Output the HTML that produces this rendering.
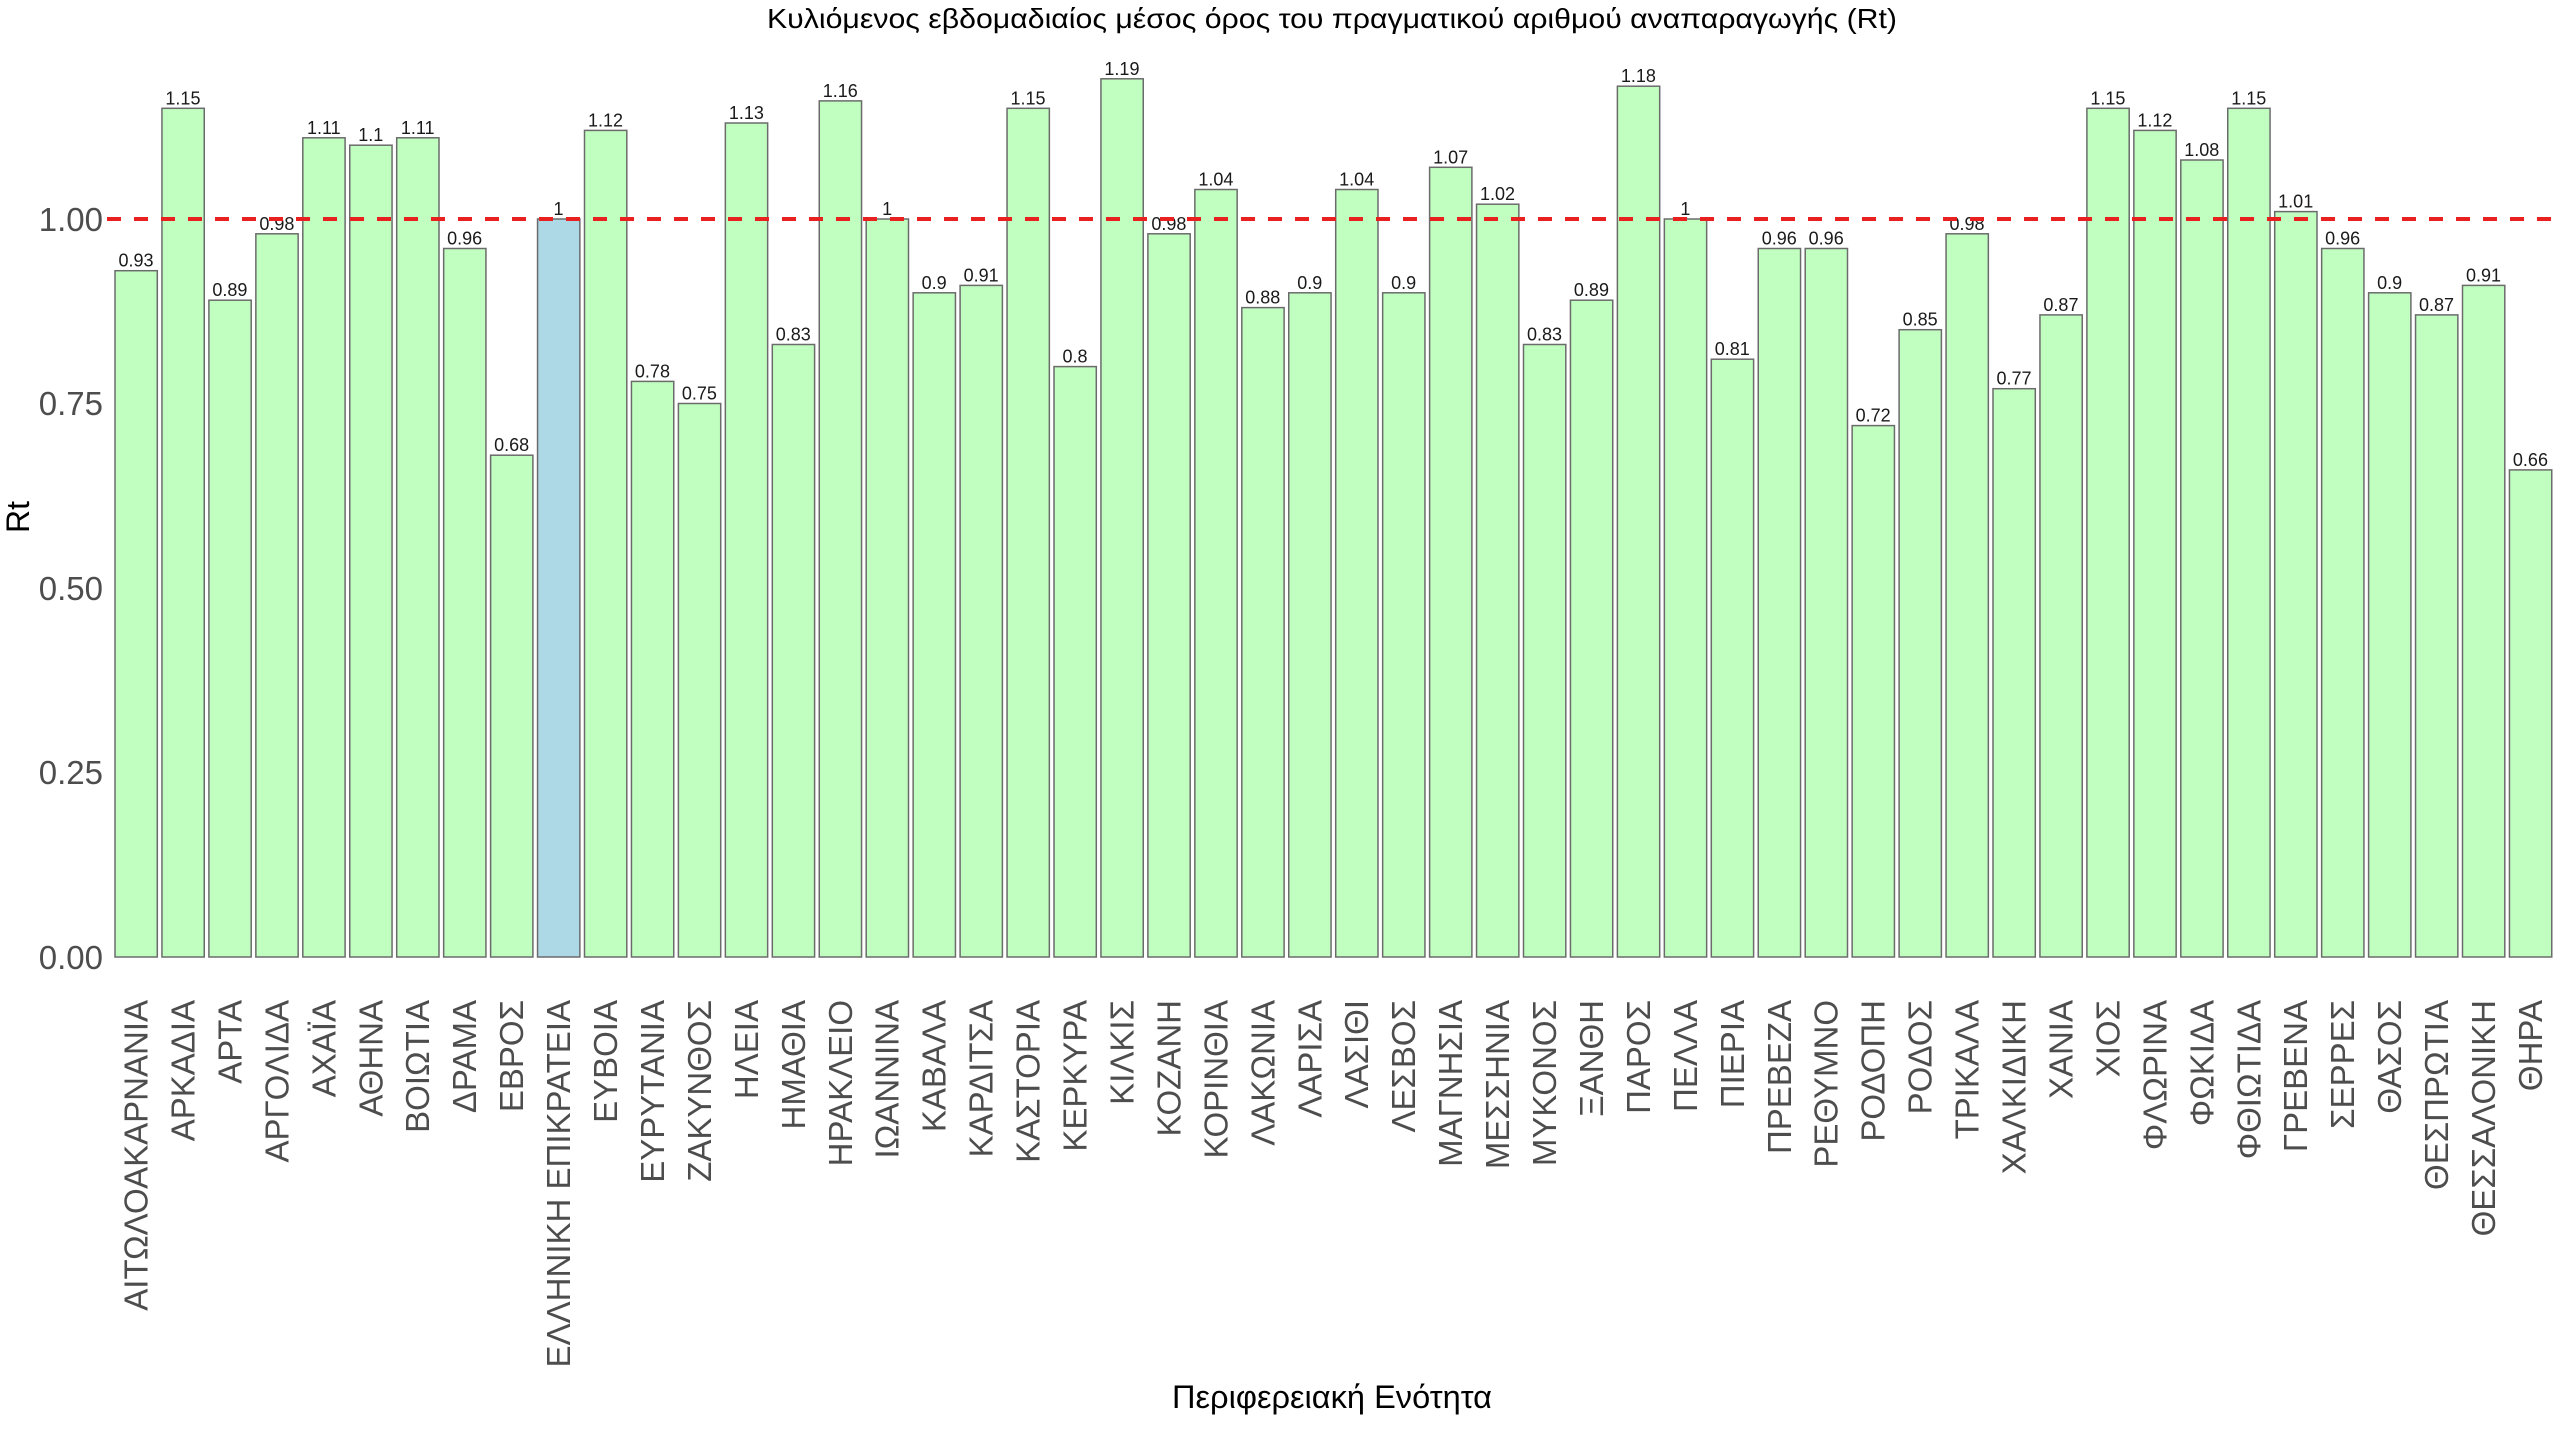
<!DOCTYPE html>
<html><head><meta charset="utf-8"><style>
html,body{margin:0;padding:0;background:#fff;}
svg{display:block;}
.b rect{fill:#c1ffc1;stroke:#6b6b6b;stroke-width:1.5;}
.v{font:18px "Liberation Sans",sans-serif;fill:#1a1a1a;text-anchor:middle;}
.x{font:33px "Liberation Sans",sans-serif;fill:#4d4d4d;text-anchor:end;}
.y{font:33px "Liberation Sans",sans-serif;fill:#4d4d4d;text-anchor:end;}
</style></head><body>
<svg width="2560" height="1440" viewBox="0 0 2560 1440" xmlns="http://www.w3.org/2000/svg">
<text x="1332" y="28" text-anchor="middle" textLength="1130" lengthAdjust="spacingAndGlyphs" style="font:28px 'Liberation Sans',sans-serif;fill:#000">Κυλιόμενος εβδομαδιαίος μέσος όρος του πραγματικού αριθμού αναπαραγωγής (Rt)</text>
<text x="1332" y="1408" text-anchor="middle" textLength="320" lengthAdjust="spacingAndGlyphs" style="font:32px 'Liberation Sans',sans-serif;fill:#000">Περιφερειακή Ενότητα</text>
<text transform="translate(29,517) rotate(-90)" text-anchor="middle" style="font:32px 'Liberation Sans',sans-serif;fill:#000">Rt</text>
<text class="y" x="103" y="969">0.00</text>
<text class="y" x="103" y="784">0.25</text>
<text class="y" x="103" y="600">0.50</text>
<text class="y" x="103" y="415">0.75</text>
<text class="y" x="103" y="231">1.00</text>
<g class="b">
<g transform="translate(115)"><rect x="0" y="270.7" width="42.3" height="686.3"/><text class="v" x="21" y="266.7">0.93</text><text class="x" transform="translate(32.5,1000) rotate(-90)">ΑΙΤΩΛΟΑΚΑΡΝΑΝΙΑ</text></g>
<g transform="translate(161.95)"><rect x="0" y="108.3" width="42.3" height="848.7"/><text class="v" x="21" y="104.3">1.15</text><text class="x" transform="translate(32.5,1000) rotate(-90)">ΑΡΚΑΔΙΑ</text></g>
<g transform="translate(208.9)"><rect x="0" y="300.2" width="42.3" height="656.8"/><text class="v" x="21" y="296.2">0.89</text><text class="x" transform="translate(32.5,1000) rotate(-90)">ΑΡΤΑ</text></g>
<g transform="translate(255.85)"><rect x="0" y="233.8" width="42.3" height="723.2"/><text class="v" x="21" y="229.8">0.98</text><text class="x" transform="translate(32.5,1000) rotate(-90)">ΑΡΓΟΛΙΔΑ</text></g>
<g transform="translate(302.8)"><rect x="0" y="137.8" width="42.3" height="819.2"/><text class="v" x="21" y="133.8">1.11</text><text class="x" transform="translate(32.5,1000) rotate(-90)">ΑΧΑΪΑ</text></g>
<g transform="translate(349.75)"><rect x="0" y="145.2" width="42.3" height="811.8"/><text class="v" x="21" y="141.2">1.1</text><text class="x" transform="translate(32.5,1000) rotate(-90)">ΑΘΗΝΑ</text></g>
<g transform="translate(396.7)"><rect x="0" y="137.8" width="42.3" height="819.2"/><text class="v" x="21" y="133.8">1.11</text><text class="x" transform="translate(32.5,1000) rotate(-90)">ΒΟΙΩΤΙΑ</text></g>
<g transform="translate(443.65)"><rect x="0" y="248.5" width="42.3" height="708.5"/><text class="v" x="21" y="244.5">0.96</text><text class="x" transform="translate(32.5,1000) rotate(-90)">ΔΡΑΜΑ</text></g>
<g transform="translate(490.6)"><rect x="0" y="455.2" width="42.3" height="501.8"/><text class="v" x="21" y="451.2">0.68</text><text class="x" transform="translate(32.5,1000) rotate(-90)">ΕΒΡΟΣ</text></g>
<g transform="translate(537.55)"><rect x="0" y="219" width="42.3" height="738" style="fill:#add8e6"/><text class="v" x="21" y="215">1</text><text class="x" transform="translate(32.5,1000) rotate(-90)">ΕΛΛΗΝΙΚΗ ΕΠΙΚΡΑΤΕΙΑ</text></g>
<g transform="translate(584.5)"><rect x="0" y="130.4" width="42.3" height="826.6"/><text class="v" x="21" y="126.4">1.12</text><text class="x" transform="translate(32.5,1000) rotate(-90)">ΕΥΒΟΙΑ</text></g>
<g transform="translate(631.45)"><rect x="0" y="381.4" width="42.3" height="575.6"/><text class="v" x="21" y="377.4">0.78</text><text class="x" transform="translate(32.5,1000) rotate(-90)">ΕΥΡΥΤΑΝΙΑ</text></g>
<g transform="translate(678.4)"><rect x="0" y="403.5" width="42.3" height="553.5"/><text class="v" x="21" y="399.5">0.75</text><text class="x" transform="translate(32.5,1000) rotate(-90)">ΖΑΚΥΝΘΟΣ</text></g>
<g transform="translate(725.35)"><rect x="0" y="123" width="42.3" height="834"/><text class="v" x="21" y="119">1.13</text><text class="x" transform="translate(32.5,1000) rotate(-90)">ΗΛΕΙΑ</text></g>
<g transform="translate(772.3)"><rect x="0" y="344.5" width="42.3" height="612.5"/><text class="v" x="21" y="340.5">0.83</text><text class="x" transform="translate(32.5,1000) rotate(-90)">ΗΜΑΘΙΑ</text></g>
<g transform="translate(819.25)"><rect x="0" y="100.9" width="42.3" height="856.1"/><text class="v" x="21" y="96.9">1.16</text><text class="x" transform="translate(32.5,1000) rotate(-90)">ΗΡΑΚΛΕΙΟ</text></g>
<g transform="translate(866.2)"><rect x="0" y="219" width="42.3" height="738"/><text class="v" x="21" y="215">1</text><text class="x" transform="translate(32.5,1000) rotate(-90)">ΙΩΑΝΝΙΝΑ</text></g>
<g transform="translate(913.15)"><rect x="0" y="292.8" width="42.3" height="664.2"/><text class="v" x="21" y="288.8">0.9</text><text class="x" transform="translate(32.5,1000) rotate(-90)">ΚΑΒΑΛΑ</text></g>
<g transform="translate(960.1)"><rect x="0" y="285.4" width="42.3" height="671.6"/><text class="v" x="21" y="281.4">0.91</text><text class="x" transform="translate(32.5,1000) rotate(-90)">ΚΑΡΔΙΤΣΑ</text></g>
<g transform="translate(1007.05)"><rect x="0" y="108.3" width="42.3" height="848.7"/><text class="v" x="21" y="104.3">1.15</text><text class="x" transform="translate(32.5,1000) rotate(-90)">ΚΑΣΤΟΡΙΑ</text></g>
<g transform="translate(1054)"><rect x="0" y="366.6" width="42.3" height="590.4"/><text class="v" x="21" y="362.6">0.8</text><text class="x" transform="translate(32.5,1000) rotate(-90)">ΚΕΡΚΥΡΑ</text></g>
<g transform="translate(1100.95)"><rect x="0" y="78.8" width="42.3" height="878.2"/><text class="v" x="21" y="74.8">1.19</text><text class="x" transform="translate(32.5,1000) rotate(-90)">ΚΙΛΚΙΣ</text></g>
<g transform="translate(1147.9)"><rect x="0" y="233.8" width="42.3" height="723.2"/><text class="v" x="21" y="229.8">0.98</text><text class="x" transform="translate(32.5,1000) rotate(-90)">ΚΟΖΑΝΗ</text></g>
<g transform="translate(1194.85)"><rect x="0" y="189.5" width="42.3" height="767.5"/><text class="v" x="21" y="185.5">1.04</text><text class="x" transform="translate(32.5,1000) rotate(-90)">ΚΟΡΙΝΘΙΑ</text></g>
<g transform="translate(1241.8)"><rect x="0" y="307.6" width="42.3" height="649.4"/><text class="v" x="21" y="303.6">0.88</text><text class="x" transform="translate(32.5,1000) rotate(-90)">ΛΑΚΩΝΙΑ</text></g>
<g transform="translate(1288.75)"><rect x="0" y="292.8" width="42.3" height="664.2"/><text class="v" x="21" y="288.8">0.9</text><text class="x" transform="translate(32.5,1000) rotate(-90)">ΛΑΡΙΣΑ</text></g>
<g transform="translate(1335.7)"><rect x="0" y="189.5" width="42.3" height="767.5"/><text class="v" x="21" y="185.5">1.04</text><text class="x" transform="translate(32.5,1000) rotate(-90)">ΛΑΣΙΘΙ</text></g>
<g transform="translate(1382.65)"><rect x="0" y="292.8" width="42.3" height="664.2"/><text class="v" x="21" y="288.8">0.9</text><text class="x" transform="translate(32.5,1000) rotate(-90)">ΛΕΣΒΟΣ</text></g>
<g transform="translate(1429.6)"><rect x="0" y="167.3" width="42.3" height="789.7"/><text class="v" x="21" y="163.3">1.07</text><text class="x" transform="translate(32.5,1000) rotate(-90)">ΜΑΓΝΗΣΙΑ</text></g>
<g transform="translate(1476.55)"><rect x="0" y="204.2" width="42.3" height="752.8"/><text class="v" x="21" y="200.2">1.02</text><text class="x" transform="translate(32.5,1000) rotate(-90)">ΜΕΣΣΗΝΙΑ</text></g>
<g transform="translate(1523.5)"><rect x="0" y="344.5" width="42.3" height="612.5"/><text class="v" x="21" y="340.5">0.83</text><text class="x" transform="translate(32.5,1000) rotate(-90)">ΜΥΚΟΝΟΣ</text></g>
<g transform="translate(1570.45)"><rect x="0" y="300.2" width="42.3" height="656.8"/><text class="v" x="21" y="296.2">0.89</text><text class="x" transform="translate(32.5,1000) rotate(-90)">ΞΑΝΘΗ</text></g>
<g transform="translate(1617.4)"><rect x="0" y="86.2" width="42.3" height="870.8"/><text class="v" x="21" y="82.2">1.18</text><text class="x" transform="translate(32.5,1000) rotate(-90)">ΠΑΡΟΣ</text></g>
<g transform="translate(1664.35)"><rect x="0" y="219" width="42.3" height="738"/><text class="v" x="21" y="215">1</text><text class="x" transform="translate(32.5,1000) rotate(-90)">ΠΕΛΛΑ</text></g>
<g transform="translate(1711.3)"><rect x="0" y="359.2" width="42.3" height="597.8"/><text class="v" x="21" y="355.2">0.81</text><text class="x" transform="translate(32.5,1000) rotate(-90)">ΠΙΕΡΙΑ</text></g>
<g transform="translate(1758.25)"><rect x="0" y="248.5" width="42.3" height="708.5"/><text class="v" x="21" y="244.5">0.96</text><text class="x" transform="translate(32.5,1000) rotate(-90)">ΠΡΕΒΕΖΑ</text></g>
<g transform="translate(1805.2)"><rect x="0" y="248.5" width="42.3" height="708.5"/><text class="v" x="21" y="244.5">0.96</text><text class="x" transform="translate(32.5,1000) rotate(-90)">ΡΕΘΥΜΝΟ</text></g>
<g transform="translate(1852.15)"><rect x="0" y="425.6" width="42.3" height="531.4"/><text class="v" x="21" y="421.6">0.72</text><text class="x" transform="translate(32.5,1000) rotate(-90)">ΡΟΔΟΠΗ</text></g>
<g transform="translate(1899.1)"><rect x="0" y="329.7" width="42.3" height="627.3"/><text class="v" x="21" y="325.7">0.85</text><text class="x" transform="translate(32.5,1000) rotate(-90)">ΡΟΔΟΣ</text></g>
<g transform="translate(1946.05)"><rect x="0" y="233.8" width="42.3" height="723.2"/><text class="v" x="21" y="229.8">0.98</text><text class="x" transform="translate(32.5,1000) rotate(-90)">ΤΡΙΚΑΛΑ</text></g>
<g transform="translate(1993)"><rect x="0" y="388.7" width="42.3" height="568.3"/><text class="v" x="21" y="384.7">0.77</text><text class="x" transform="translate(32.5,1000) rotate(-90)">ΧΑΛΚΙΔΙΚΗ</text></g>
<g transform="translate(2039.95)"><rect x="0" y="314.9" width="42.3" height="642.1"/><text class="v" x="21" y="310.9">0.87</text><text class="x" transform="translate(32.5,1000) rotate(-90)">ΧΑΝΙΑ</text></g>
<g transform="translate(2086.9)"><rect x="0" y="108.3" width="42.3" height="848.7"/><text class="v" x="21" y="104.3">1.15</text><text class="x" transform="translate(32.5,1000) rotate(-90)">ΧΙΟΣ</text></g>
<g transform="translate(2133.85)"><rect x="0" y="130.4" width="42.3" height="826.6"/><text class="v" x="21" y="126.4">1.12</text><text class="x" transform="translate(32.5,1000) rotate(-90)">ΦΛΩΡΙΝΑ</text></g>
<g transform="translate(2180.8)"><rect x="0" y="160" width="42.3" height="797"/><text class="v" x="21" y="156">1.08</text><text class="x" transform="translate(32.5,1000) rotate(-90)">ΦΩΚΙΔΑ</text></g>
<g transform="translate(2227.75)"><rect x="0" y="108.3" width="42.3" height="848.7"/><text class="v" x="21" y="104.3">1.15</text><text class="x" transform="translate(32.5,1000) rotate(-90)">ΦΘΙΩΤΙΔΑ</text></g>
<g transform="translate(2274.7)"><rect x="0" y="211.6" width="42.3" height="745.4"/><text class="v" x="21" y="207.6">1.01</text><text class="x" transform="translate(32.5,1000) rotate(-90)">ΓΡΕΒΕΝΑ</text></g>
<g transform="translate(2321.65)"><rect x="0" y="248.5" width="42.3" height="708.5"/><text class="v" x="21" y="244.5">0.96</text><text class="x" transform="translate(32.5,1000) rotate(-90)">ΣΕΡΡΕΣ</text></g>
<g transform="translate(2368.6)"><rect x="0" y="292.8" width="42.3" height="664.2"/><text class="v" x="21" y="288.8">0.9</text><text class="x" transform="translate(32.5,1000) rotate(-90)">ΘΑΣΟΣ</text></g>
<g transform="translate(2415.55)"><rect x="0" y="314.9" width="42.3" height="642.1"/><text class="v" x="21" y="310.9">0.87</text><text class="x" transform="translate(32.5,1000) rotate(-90)">ΘΕΣΠΡΩΤΙΑ</text></g>
<g transform="translate(2462.5)"><rect x="0" y="285.4" width="42.3" height="671.6"/><text class="v" x="21" y="281.4">0.91</text><text class="x" transform="translate(32.5,1000) rotate(-90)">ΘΕΣΣΑΛΟΝΙΚΗ</text></g>
<g transform="translate(2509.45)"><rect x="0" y="469.9" width="42.3" height="487.1"/><text class="v" x="21" y="465.9">0.66</text><text class="x" transform="translate(32.5,1000) rotate(-90)">ΘΗΡΑ</text></g>
</g>
<line x1="107" y1="219" x2="2554" y2="219" stroke="#e8201f" stroke-width="4" stroke-dasharray="14,13"/>
</svg>
</body></html>
